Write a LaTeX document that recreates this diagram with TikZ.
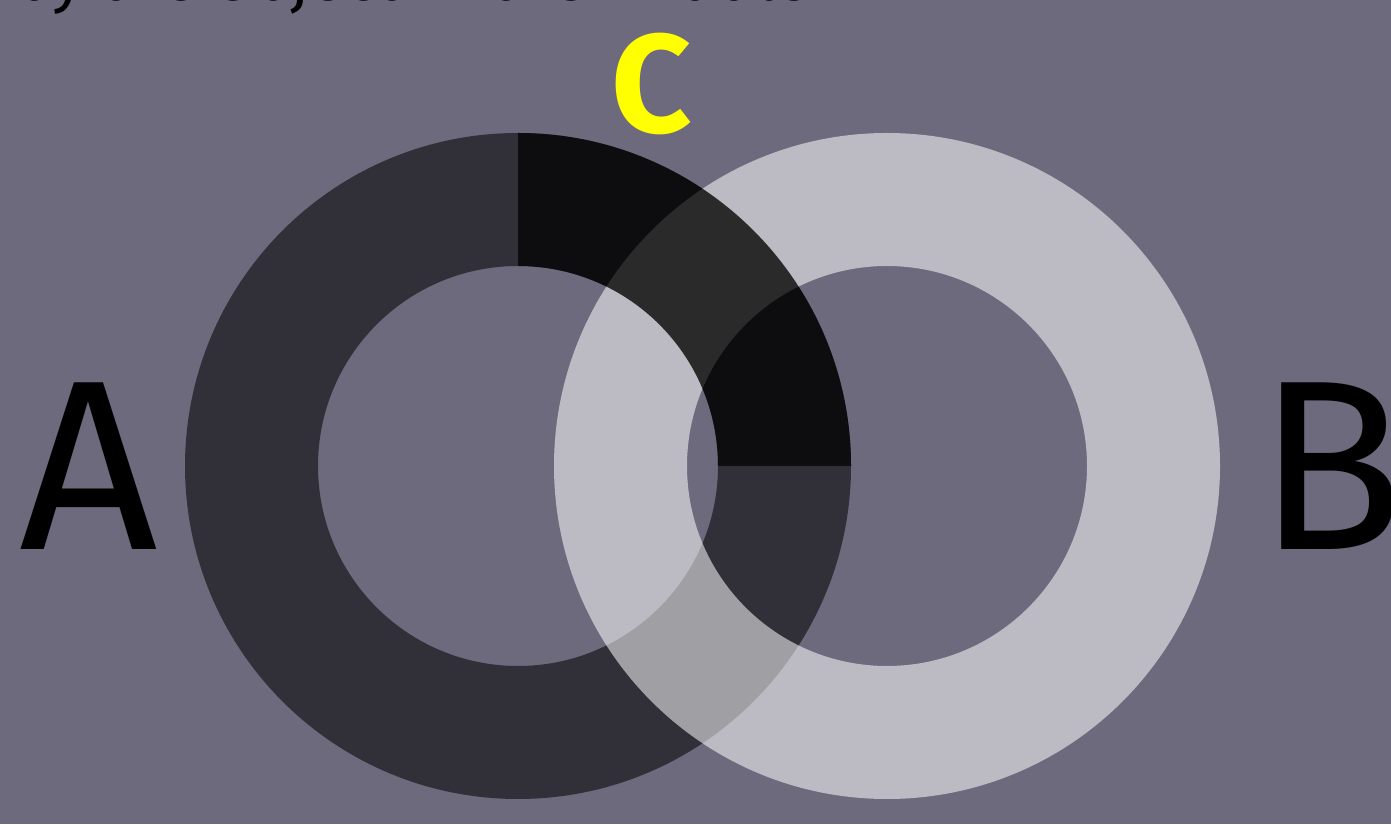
\documentclass[tikz,border=0pt]{standalone}
\usepackage{fontspec}
\setmainfont{Fira Sans}
\usepackage{tikz}
\usetikzlibrary{calc}
\definecolor{slate}{RGB}{110,106,126}
\definecolor{signal}{RGB}{255,255,0}
\tikzset{
  ringA/.style    = {fill=black, fill opacity=0.55, even odd rule},
  ringB/.style    = {fill=white, fill opacity=0.54, even odd rule},
  occluder/.style = {fill=black, fill opacity=0.735},
  biglabel/.style = {font=\fontsize{242}{242}\selectfont, text=black,
                     inner sep=0pt},
}

\begin{document}
\begin{tikzpicture}[x=1pt, y=1pt]

    % --- background ---------------------------------------------------------
    \fill[slate] (0,0) rectangle (1391,824);
    \useasboundingbox (0,0) rectangle (1391,824);

    \coordinate (ca) at (518,358);
    \coordinate (cb) at (887,358);

    % --- ring A (dark) and ring B (light) -----------------------------------
    \fill[ringA] (ca) circle (333pt) (ca) circle (200pt);
    \fill[ringB] (cb) circle (333pt) (cb) circle (200pt);

    % --- quarter of ring A covered by the object in the middle --------------
    \fill[occluder] ($ (ca)+(200,0) $) -- ($ (ca)+(333,0) $)
      arc[start angle=0, end angle=90, radius=333pt]
      -- ($ (ca)+(0,200) $)
      arc[start angle=90, end angle=0, radius=200pt] -- cycle;

    % --- labels --------------------------------------------------------------
    \node[anchor=base west, inner sep=0pt, font=\fontsize{65}{65}\selectfont]
      (heading) at (13,823) {by the object in the middle};
    \node[biglabel] (labelA) at (89,358) {A};
    \node[biglabel] (labelB) at (1331,358) {B};
    \node[inner sep=0pt, text=signal, font=\bfseries\fontsize{140}{140}\selectfont]
      (labelC) at (652,740) {C};

  \end{tikzpicture}
\end{document}
